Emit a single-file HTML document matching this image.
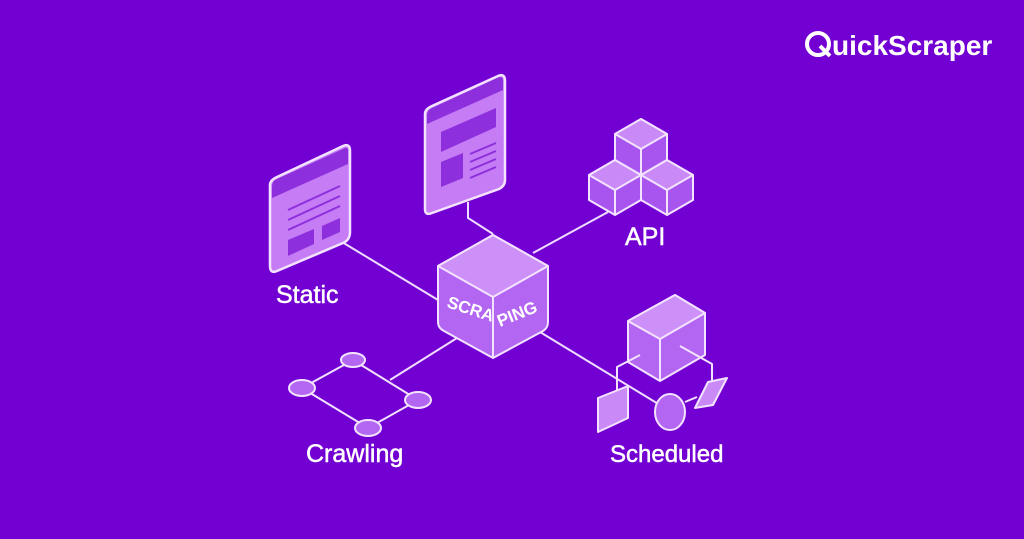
<!DOCTYPE html>
<html><head><meta charset="utf-8"><style>
html,body{margin:0;padding:0;background:#7300d3;}
svg{display:block}
text{font-family:"Liberation Sans",sans-serif;fill:#fff}
</style></head><body>
<svg width="1024" height="539" viewBox="0 0 1024 539">
<rect width="1024" height="539" fill="#7300d3"/>
<g stroke="#f0ddff" stroke-width="2" fill="none">
<polyline points="468,202 468,218 493,234"/>
<line x1="533" y1="253" x2="608" y2="212"/>
<line x1="342" y1="242" x2="438" y2="300"/>
<line x1="457" y1="338" x2="390" y2="380"/>
<line x1="540" y1="332" x2="660" y2="405"/>
</g>
<!-- top browser -->
<g stroke="#f3e3ff" stroke-width="2.5">
<path d="M432,106 L498,76 Q505,73 505,81 L505,180 Q505,186 499,189 L432,213 Q425,216 425,209 L425,114 Q425,109 432,106Z" fill="#c57cf5"/>
<path d="M427,124 L503,90 L503,81 Q503,75 497,78 L432,108 Q427,110 427,116Z" fill="#8d2fdc" stroke="none"/>
</g>
<g fill="#8d2fdc">
<path d="M441,132 L496,108 L496,127 L441,152Z"/>
<path d="M441,162 L463,153 L463,178 L441,187Z"/>
</g>
<g stroke="#8d2fdc" stroke-width="2"><line x1="470" y1="154" x2="496" y2="143"/><line x1="470" y1="162" x2="496" y2="151"/><line x1="470" y1="170" x2="496" y2="159"/><line x1="470" y1="178" x2="496" y2="167"/></g>
<!-- static browser -->
<g stroke="#f3e3ff" stroke-width="2.5">
<path d="M277,177 L343,146 Q350,143 350,151 L350,232 Q350,240 343,243 L277,271 Q270,274 270,266 L270,185 Q270,180 277,177Z" fill="#c57cf5"/>
<path d="M272,198 L348,164 L348,151 Q348,146 343,149 L277,179 Q272,181 272,187Z" fill="#8d2fdc" stroke="none"/>
</g>
<g stroke="#8d2fdc" stroke-width="2"><line x1="288" y1="210" x2="340" y2="186"/><line x1="288" y1="220" x2="340" y2="196"/><line x1="288" y1="230" x2="340" y2="206"/></g>
<g fill="#8d2fdc"><path d="M288,240 L314,229 L314,244 L288,256Z"/><path d="M322,226 L340,218 L340,232 L322,240Z"/></g>
<!-- API cubes -->
<g stroke="#f3e3ff" stroke-width="2" stroke-linejoin="round">
<path d="M641,119 L667,134 L667,165 L641,180 L615,165 L615,134Z" fill="#a755ee"/>
<path d="M641,119 L667,134 L641,149 L615,134Z" fill="#c98af7"/>
<path d="M641,149 L641,180" />
<path d="M615,160 L641,175 L641,200 L615,215 L589,200 L589,175Z" fill="#a755ee"/>
<path d="M615,160 L641,175 L615,190 L589,175Z" fill="#c98af7"/>
<path d="M615,190 L615,215"/>
<path d="M667,160 L693,175 L693,200 L667,215 L641,200 L641,175Z" fill="#a755ee"/>
<path d="M667,160 L693,175 L667,190 L641,175Z" fill="#c98af7"/>
<path d="M667,190 L667,215"/>
</g>
<!-- central cube -->
<g stroke="#f3e3ff" stroke-width="2" stroke-linejoin="round">
<path d="M493,235 L548,266 L548,322 Q548,328 543,331 L493,358 L444,331 Q438,328 438,322 L438,266Z" fill="#b366f2"/>
<path d="M493,235 L548,266 L493,297 L438,266Z" fill="#cd8ff8"/>
<path d="M493,297 L493,358" />
</g>
<text x="0" y="0" font-size="17" font-weight="bold" transform="translate(446,307) rotate(18)">SCRA</text>
<text x="0" y="0" font-size="17" font-weight="bold" transform="translate(500,327) rotate(-22)">PING</text>
<!-- crawling -->
<g stroke="#f3e3ff" stroke-width="2" fill="#b366f2">
<path d="M353,360 L302,388 L368,428 L418,400Z" fill="none"/>
<ellipse cx="353" cy="360" rx="12" ry="7"/>
<ellipse cx="302" cy="388" rx="13" ry="8"/>
<ellipse cx="418" cy="400" rx="13" ry="8"/>
<ellipse cx="368" cy="428" rx="13" ry="8"/>
</g>
<!-- scheduled -->
<g stroke="#f3e3ff" stroke-width="2" stroke-linejoin="round">
<path d="M675,295 L705,313 L705,355 L660,381 L628,362 L628,321Z" fill="#b366f2"/>
<path d="M675,295 L705,313 L660,339 L628,321Z" fill="#cd8ff8"/>
<path d="M660,339 L660,381" fill="none"/>
<path d="M617,390 L617,367 L640,355" fill="none"/>
<path d="M680,346 L712,364 L712,385" fill="none"/>
<path d="M598,398 L628,386 L628,418 L598,432Z" fill="#c98af7"/>
<ellipse cx="670" cy="412" rx="15" ry="18" fill="#b366f2"/>
<path d="M708,382 L727,378 L713,405 L695,408Z" fill="#c98af7"/>
<line x1="685" y1="402" x2="697" y2="397"/>
</g>
<!-- labels -->
<g stroke="#fff" stroke-width="0.5">
<text x="276" y="303" font-size="25">Static</text>
<text x="625" y="245" font-size="25">API</text>
<text x="306" y="462" font-size="25">Crawling</text>
<text x="610" y="462" font-size="24">Scheduled</text>
</g>
<!-- logo -->
<circle cx="818" cy="44" r="11" fill="none" stroke="#fff" stroke-width="4"/>
<line x1="820" y1="46" x2="830" y2="56" stroke="#fff" stroke-width="4"/>
<text x="832" y="55" font-size="28" font-weight="bold">uickScraper</text>
</svg>
</body></html>
